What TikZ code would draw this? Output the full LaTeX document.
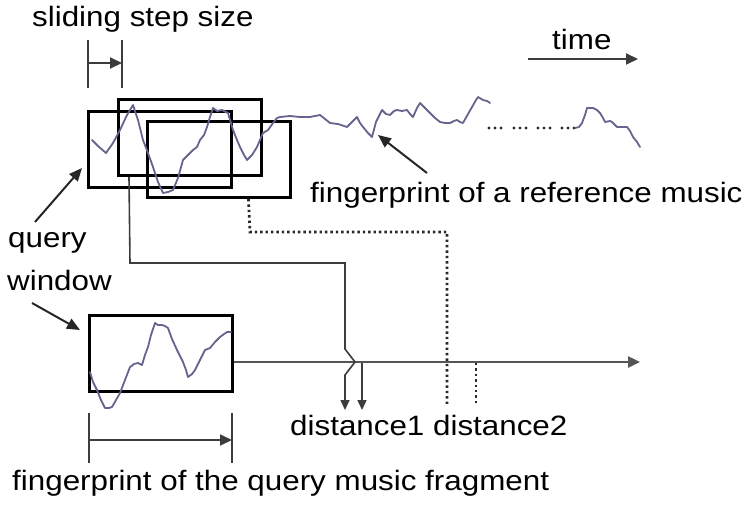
\documentclass[tikz,border=0pt]{standalone}
\usepackage{fontspec}
\setmainfont{Liberation Sans}
\usetikzlibrary{arrows.meta}
\definecolor{wavec}{RGB}{100,100,140}
\definecolor{linec}{RGB}{60,60,60}
\definecolor{axisc}{RGB}{85,85,85}
\definecolor{dotc}{RGB}{40,40,40}
\newcommand{\sx}[1]{\scalebox{1.12}[1]{#1}}
\tikzset{
  lbl/.style={anchor=base west, inner sep=0pt, font=\fontsize{28}{32}\selectfont},
  win/.style={draw=black, line width=3pt, inner sep=0pt, minimum width=143pt, minimum height=76pt},
  wave/.style={draw=wavec, line width=1.8pt, line join=round, line cap=round},
  conn/.style={draw=linec, line width=1.6pt},
  dotl/.style={draw=dotc, line width=2.8pt, dash pattern=on 2.4pt off 3pt},
  bigarr/.style={-{Triangle[length=12pt,width=11pt]}},
  smallarr/.style={-{Triangle[length=10pt,width=9pt]}},
  pointer/.style={draw=black!85, line width=2pt, -{Triangle[length=13pt,width=11pt]}},
}
\begin{document}
\begin{tikzpicture}[x=1pt,y=-1pt]
\useasboundingbox (0,0) rectangle (744,511);
% labels
\node[lbl] (tss) at (32,27) {\sx{sliding step size}};
\node[lbl] (time) at (552,50) {\sx{time}};
\node[lbl] (ref) at (310,202) {\sx{fingerprint of a reference music}};
\node[lbl] (q1) at (8,247) {\sx{query}};
\node[lbl] (q2) at (7,290) {\sx{window}};
\node[lbl] (dist) at (290,435) {\sx{distance1 distance2}};
\node[lbl] (bot) at (12,490) {\sx{fingerprint of the query music fragment}};
% step marker
\coordinate (s1t) at (88,40); \coordinate (s1b) at (88,88);
\coordinate (s2t) at (122,40); \coordinate (s2b) at (122,88);
\coordinate (s1m) at (88,63); \coordinate (s2m) at (122,63);
\draw[conn, line width=2pt] (s1t) -- (s1b);
\draw[conn, line width=2pt] (s2t) -- (s2b);
\draw[conn, line width=2pt, bigarr] (s1m) -- (s2m);
% time arrow
\coordinate (t0) at (528,59); \coordinate (t1) at (638,59);
\draw[conn, line width=2pt, bigarr] (t0) -- (t1);
% windows
\node[win] (b1) at (160,149) {};
\node[win] (b2) at (189.5,137.5) {};
\node[win] (b3) at (218.5,159.5) {};
\node[win] (qb) at (160.5,353.5) {};
% reference waveform
\draw[wave] plot coordinates {(92,140) (98,146) (106,153) (113,143) (120,130) (127,115) (133,105) (138,120) (143,140) (148,153) (153,167) (158,182) (163,193) (168,192) (173,190) (178,178) (183,160) (188,155) (193,150) (197,147) (200,140) (204,135) (207,127) (210,117) (213,108) (217,111) (222,110) (228,113) (233,130) (237,140) (240,147) (244,155) (247,160) (252,155) (257,147) (260,140) (263,133) (268,130) (273,123) (277,118) (280,117) (290,116) (300,117) (310,117) (320,115) (325,119) (330,123) (338,124) (347,127) (352,122) (357,117) (360,123) (363,127) (368,133) (372,137) (376,122) (382,110) (386,114) (390,115) (394,111) (397,110) (402,111) (407,110) (410,114) (413,117) (417,108) (420,103) (425,108) (430,113) (435,118) (440,122) (445,123) (450,123) (454,121) (457,120) (460,122) (463,123) (468,114) (472,107) (476,100) (478,97) (483,100) (487,101) (490,103)};
\foreach \g in {489,514,538,562}{
  \foreach \d in {0,6,12}{
    \fill[dotc] (\g+\d,128) circle (1.6pt);
  }
}
\draw[wave] plot coordinates {(575,128) (579,127) (582,123) (585,115) (587,108) (593,108) (597,110) (600,113) (603,118) (605,122) (610,121) (612,122) (615,125) (617,127) (622,127) (627,127) (630,131) (633,137) (637,142) (640,147)};
% query waveform
\draw[wave] plot coordinates {(90,372) (93,382) (97,390) (101,400) (105,408) (109,408) (112,407) (116,400) (120,393) (125,380) (130,367) (134,364) (138,363) (142,365) (145,355) (148,347) (151,335) (155,323) (158,325) (162,325) (165,326) (168,328) (172,339) (177,350) (180,356) (183,362) (186,370) (188,377) (192,374) (195,370) (200,360) (205,350) (210,348) (215,342) (220,337) (224,334) (227,332) (231,332)};
% pointers
\coordinate (qa0) at (35,222); \coordinate (qa1) at (82,168);
\draw[pointer] (qa0) -- (qa1);
\coordinate (qb0) at (32,303); \coordinate (qb1) at (80,330);
\draw[pointer] (qb0) -- (qb1);
\coordinate (ra0) at (427,173); \coordinate (ra1) at (378,135);
\draw[pointer] (ra0) -- (ra1);
% span of query fragment
\coordinate (p1t) at (89,413); \coordinate (p1b) at (89,463);
\coordinate (p2t) at (232,413); \coordinate (p2b) at (232,463);
\coordinate (p1m) at (89,440); \coordinate (p2m) at (232,440);
\draw[conn, line width=1.8pt] (p1t) -- (p1b);
\draw[conn, line width=1.8pt] (p2t) -- (p2b);
\draw[conn, line width=1.8pt, bigarr] (p1m) -- (p2m);
% axis
\coordinate (axend) at (640,362);
\draw[draw=axisc, line width=2.4pt, bigarr] ([yshift=-8.5pt]qb.east) -- (axend);
% connectors from windows to distances
\coordinate (c1) at (130,263); \coordinate (c2) at (345,263);
\coordinate (c3) at (345,349); \coordinate (c4) at (355,362);
\coordinate (c5) at (345,375); \coordinate (c6) at (345,410);
\draw[conn, smallarr] ([xshift=12.5pt]b2.south west) -- (c1) -- (c2) -- (c3) -- (c4) -- (c5) -- (c6);
\coordinate (e0) at (362,363); \coordinate (e1) at (362,410);
\draw[conn, smallarr] (e0) -- (e1);
\coordinate (f1) at (250,232); \coordinate (f2) at (447,232); \coordinate (f3) at (447,405);
\draw[dotl] ([xshift=103pt]b3.south west) -- (f1) -- (f2) -- (f3);
\coordinate (g0) at (476,363); \coordinate (g1) at (476,405);
\draw[dotl] (g0) -- (g1);
\end{tikzpicture}
\end{document}
